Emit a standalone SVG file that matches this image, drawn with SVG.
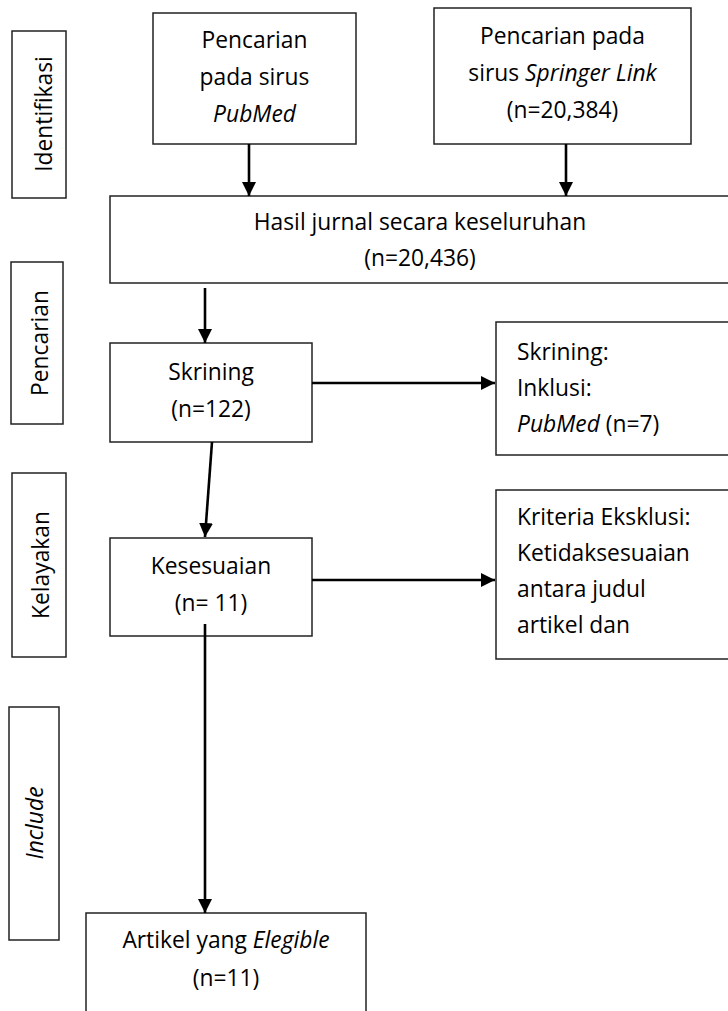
<svg xmlns="http://www.w3.org/2000/svg" width="728" height="1011" viewBox="0 0 728 1011">
<style>
.box{fill:#fff;stroke:#222;stroke-width:1.5}
.t{font-family:"Open Sans","Liberation Sans",sans-serif;font-size:22.8px;fill:#000}
.c{text-anchor:middle}
.i{font-style:italic}
.con{stroke:#000;stroke-width:2.6;fill:none}
</style>
<defs>
<marker id="ah" markerUnits="userSpaceOnUse" markerWidth="15" markerHeight="14" refX="14" refY="7" orient="auto">
<path d="M0,0 L14,7 L0,14 z" fill="#000"/>
</marker>
</defs>
<rect width="728" height="1011" fill="#fff"/>

<g id="side-identifikasi">
<rect class="box" x="12" y="31" width="54" height="167"/>
<text class="t c" x="52" y="114" transform="rotate(-90 52 114)">Identifikasi</text>
</g>
<g id="side-pencarian">
<rect class="box" x="11" y="262" width="52" height="162"/>
<text class="t c" x="48" y="343" transform="rotate(-90 48 343)">Pencarian</text>
</g>
<g id="side-kelayakan">
<rect class="box" x="12" y="473" width="54" height="184"/>
<text class="t c" x="49" y="565" transform="rotate(-90 49 565)">Kelayakan</text>
</g>
<g id="side-include">
<rect class="box" x="9" y="707" width="50" height="233"/>
<text class="t c i" x="43" y="823" transform="rotate(-90 43 823)">Include</text>
</g>

<g id="pubmed">
<rect class="box" x="153" y="13" width="203" height="131"/>
<text class="t c" x="254.5" y="48">Pencarian</text>
<text class="t c" x="254.5" y="85">pada sirus</text>
<text class="t c i" x="254.5" y="122">PubMed</text>
</g>
<g id="springer">
<rect class="box" x="434" y="8" width="257" height="136"/>
<text class="t c" x="562.5" y="44">Pencarian pada</text>
<text class="t c" x="562.5" y="81">sirus <tspan class="i">Springer Link</tspan></text>
<text class="t c" x="562.5" y="118">(n=20,384)</text>
</g>
<g id="hasil">
<rect class="box" x="110" y="196" width="630" height="87"/>
<text class="t c" x="420" y="230">Hasil jurnal secara keseluruhan</text>
<text class="t c" x="420" y="266">(n=20,436)</text>
</g>
<g id="skrining">
<rect class="box" x="110" y="343" width="202" height="99"/>
<text class="t c" x="211" y="380">Skrining</text>
<text class="t c" x="211" y="417">(n=122)</text>
</g>
<g id="skrining-inklusi">
<rect class="box" x="496" y="322" width="250" height="133"/>
<text class="t" x="517" y="360">Skrining:</text>
<text class="t" x="517" y="396">Inklusi:</text>
<text class="t" x="517" y="432"><tspan class="i">PubMed</tspan> (n=7)</text>
</g>
<g id="kesesuaian">
<rect class="box" x="110" y="538" width="202" height="98"/>
<text class="t c" x="211" y="574">Kesesuaian</text>
<text class="t c" x="211" y="611">(n= 11)</text>
</g>
<g id="eksklusi">
<rect class="box" x="496" y="490" width="250" height="169"/>
<text class="t" x="517" y="525">Kriteria Eksklusi:</text>
<text class="t" x="517" y="561">Ketidaksesuaian</text>
<text class="t" x="517" y="597">antara judul</text>
<text class="t" x="517" y="633">artikel dan</text>
</g>
<g id="elegible">
<rect class="box" x="86" y="913" width="280" height="120"/>
<text class="t c" x="226" y="948">Artikel yang <tspan class="i">Elegible</tspan></text>
<text class="t c" x="226" y="986">(n=11)</text>
</g>

<g id="connectors">
<line class="con" x1="249" y1="144" x2="249" y2="196" marker-end="url(#ah)"/>
<line class="con" x1="566" y1="144" x2="566" y2="196" marker-end="url(#ah)"/>
<line class="con" x1="205" y1="288" x2="205" y2="343" marker-end="url(#ah)"/>
<line class="con" x1="212" y1="442" x2="205" y2="537" marker-end="url(#ah)"/>
<line class="con" x1="312" y1="383" x2="495" y2="383" marker-end="url(#ah)"/>
<line class="con" x1="312" y1="580" x2="495" y2="580" marker-end="url(#ah)"/>
<line class="con" x1="205" y1="624" x2="205" y2="913" marker-end="url(#ah)"/>
</g>
</svg>
